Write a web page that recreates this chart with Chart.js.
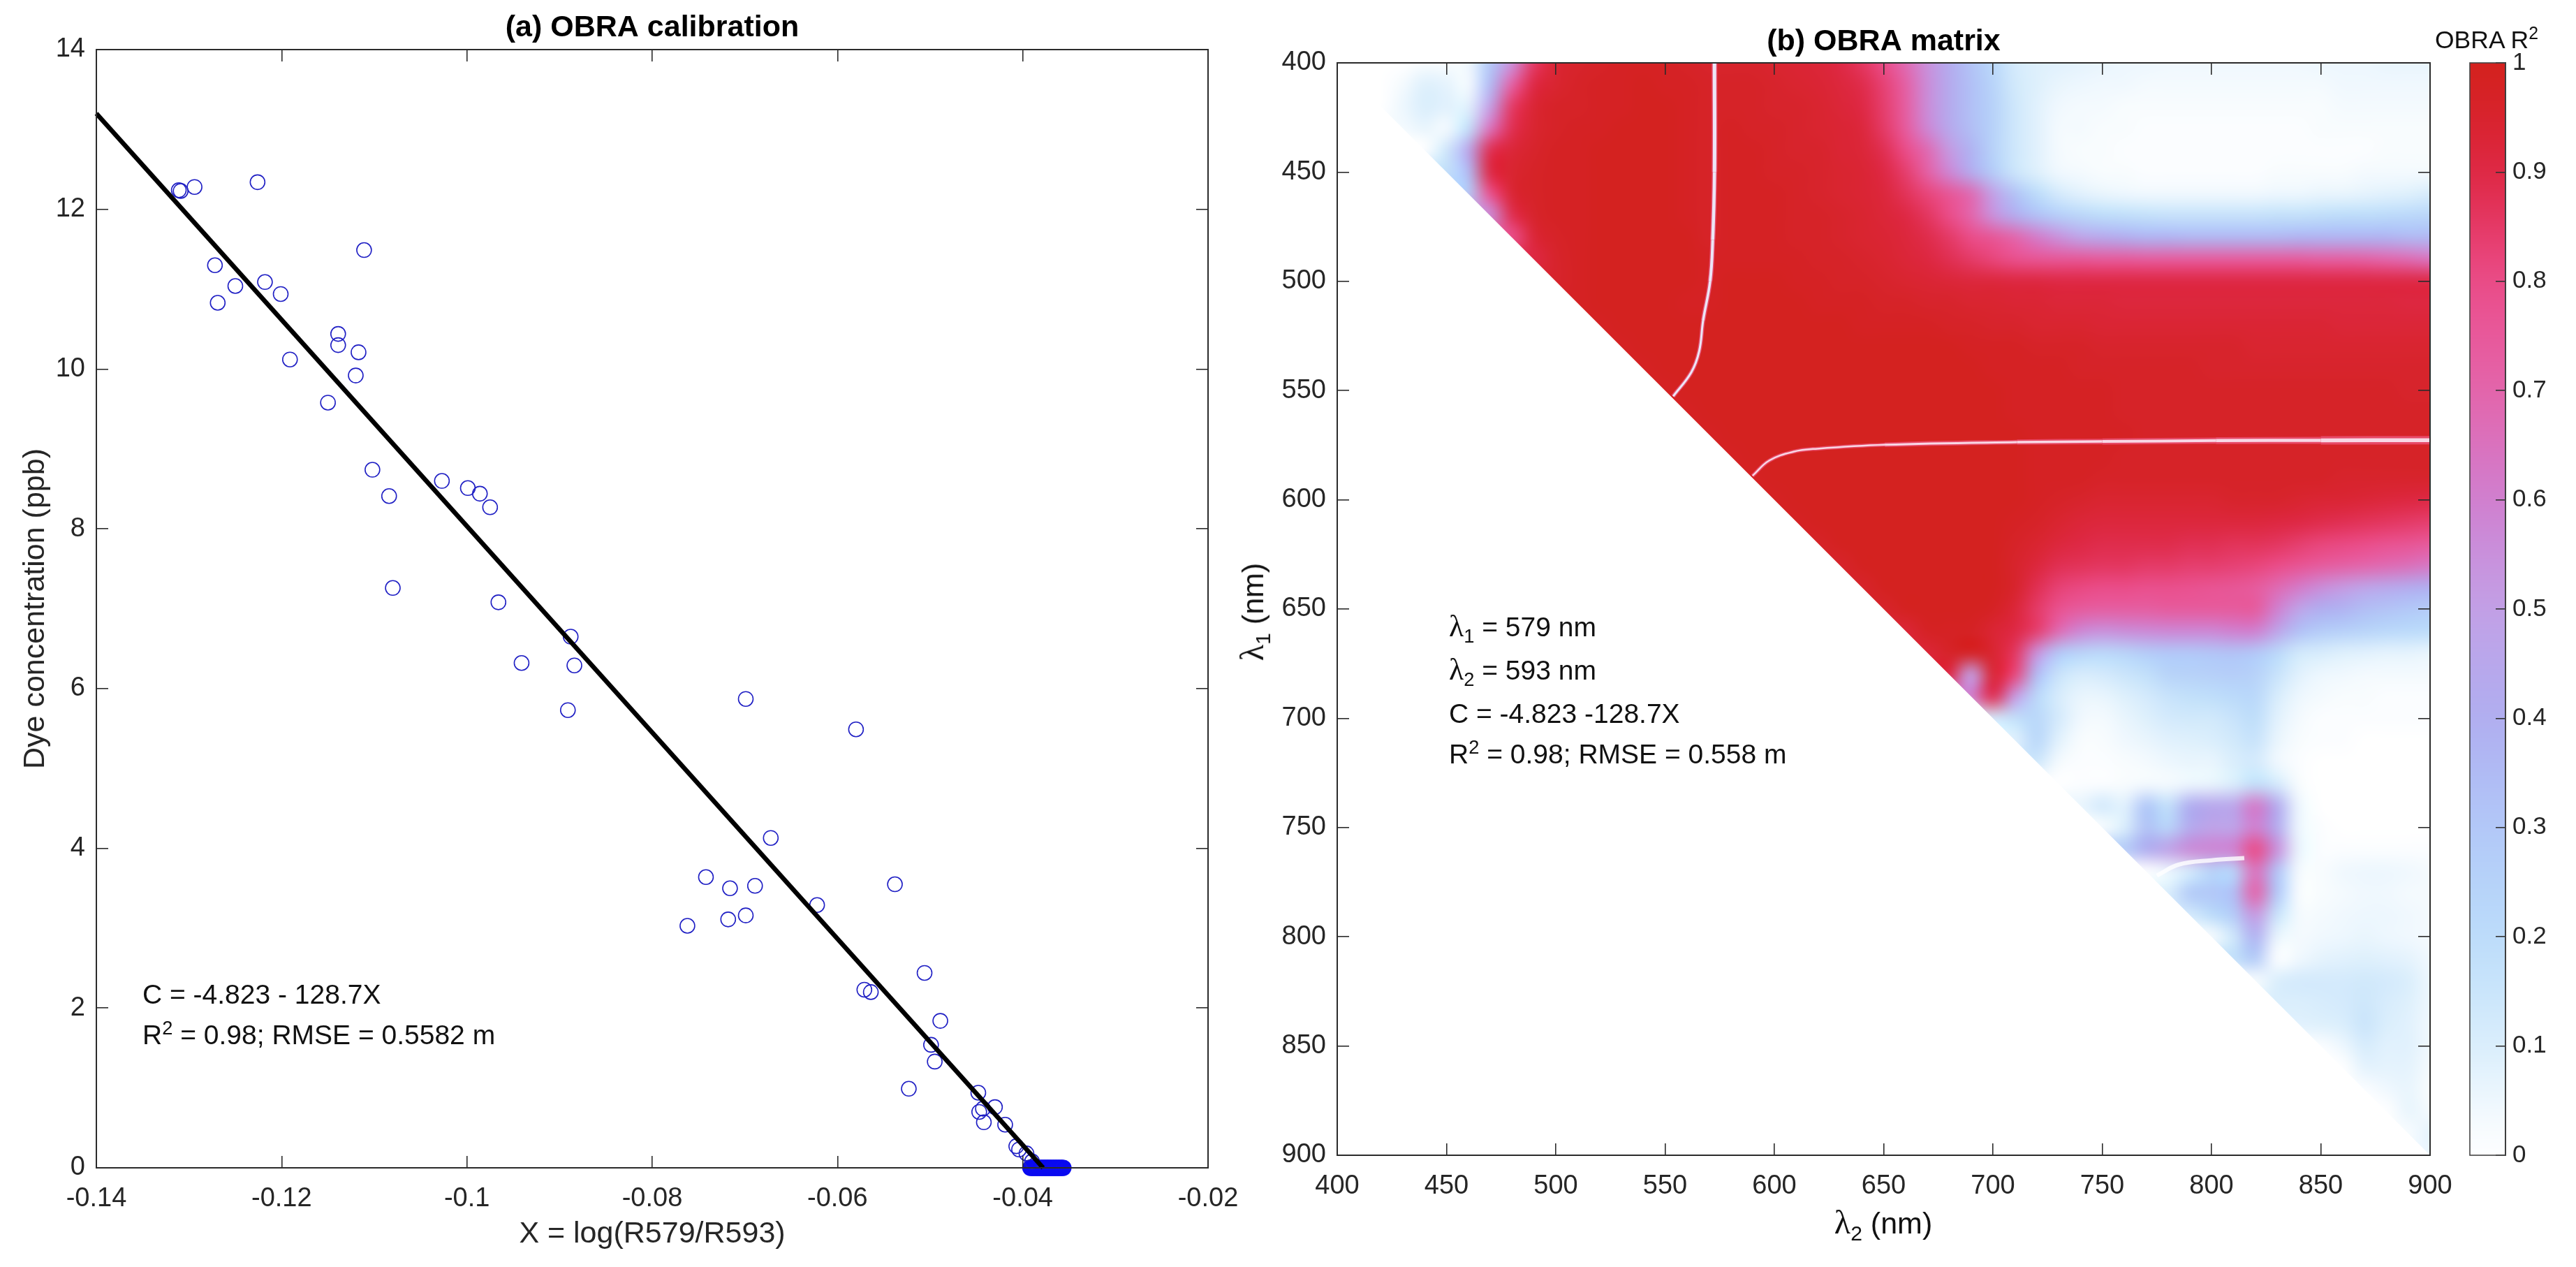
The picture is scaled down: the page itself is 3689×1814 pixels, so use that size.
<!DOCTYPE html>
<html>
<head>
<meta charset="utf-8">
<title>OBRA calibration and matrix</title>
<script src="https://cdn.jsdelivr.net/npm/chart.js@4/dist/chart.umd.js"></script>
<style>
html, body { margin: 0; padding: 0; background: #fff; }
#page { position: relative; width: 3689px; height: 1814px; overflow: hidden; font-family: "Liberation Sans", Arial, sans-serif; color: #111; }
canvas { position: absolute; top: 0; }
.txt { position: absolute; white-space: nowrap; line-height: 1; }
.txt sub, .txt sup { font-size: 70%; line-height: 0; }
.lam { font-family: "Liberation Serif", serif; font-size: 112%; }
</style>
</head>
<body>
<div id="page">
    <canvas id="chart-calibration" width="1868" height="1814" style="left:0"></canvas>
    <canvas id="chart-matrix" width="1814" height="1814" style="left:1790px"></canvas>
    <canvas id="chart-colorbar" width="189" height="1814" style="left:3500px"></canvas>
</div>
<script>
// panel (a)
const pointsX = [-0.1311, -0.1309, -0.1294, -0.1226, -0.1111, -0.1272, -0.1250, -0.1269, -0.1218, -0.1201, -0.1191, -0.1139, -0.1139, -0.1117, -0.1120, -0.1150, -0.1102, -0.1084, -0.1080, -0.1027, -0.0999, -0.0986, -0.0975, -0.0966, -0.0888, -0.0941, -0.0884, -0.0891, -0.0762, -0.0699, -0.0580, -0.0672, -0.0742, -0.0716, -0.0689, -0.0718, -0.0699, -0.0622, -0.0538, -0.0571, -0.0564, -0.0506, -0.0489, -0.0499, -0.0495, -0.0523, -0.0448, -0.0430, -0.0443, -0.0447, -0.0442, -0.0419, -0.0407, -0.0404, -0.0396, -0.0390];
const pointsY = [12.24, 12.23, 12.28, 12.34, 11.49, 11.30, 11.04, 10.83, 11.09, 10.94, 10.12, 10.44, 10.30, 10.21, 9.92, 9.58, 8.74, 8.41, 7.26, 8.60, 8.51, 8.44, 8.27, 7.08, 6.65, 6.32, 6.29, 5.73, 3.03, 5.87, 5.49, 4.13, 3.64, 3.50, 3.53, 3.11, 3.16, 3.29, 3.55, 2.23, 2.20, 2.44, 1.84, 1.54, 1.33, 0.99, 0.94, 0.76, 0.74, 0.70, 0.57, 0.54, 0.27, 0.23, 0.18, 0.08];
const zeroX = [-0.0392, -0.0391, -0.0390, -0.0389, -0.0388, -0.0387, -0.0386, -0.0385, -0.0384, -0.0383, -0.0382, -0.0381, -0.0380, -0.0379, -0.0378, -0.0377, -0.0376, -0.0375, -0.0374, -0.0373, -0.0372, -0.0371, -0.0370, -0.0369, -0.0368, -0.0367, -0.0366, -0.0365, -0.0364, -0.0363, -0.0362, -0.0361, -0.0360, -0.0359, -0.0358, -0.0357, -0.0356];
const fitX = [-0.14, -0.0378];
const fitY = [13.2, 0];

// panel (b), R2 in percent, each row starts on the diagonal (lambda2 = lambda1)
const lambda1Values = [400, 410, 420, 430, 440, 450, 460, 470, 480, 490, 500, 510, 520, 530, 540, 550, 560, 570, 580, 590, 600, 610, 620, 630, 640, 650, 660, 670, 680, 690, 700, 710, 720, 730, 740, 750, 760, 770, 780, 790, 800, 810, 820, 830, 840, 850, 860, 870, 880, 890, 900];
const r2Rows = [
    [0,0,0,0,2,2,4,30,55,85,94,96,97,98,98,98,97,96,96,96,95,94,93,90,86,80,68,55,42,32,22,12,9,8,7,6,5,5,4,4,4,4,4,4,4,5,5,5,6,6,6],
    [0,0,3,9,7,3,35,72,90,95,97,98,98,99,98,98,97,97,97,96,95,94,92,89,83,72,56,43,33,24,13,9,6,5,4,4,3,3,3,3,3,3,3,3,3,4,4,4,4,4],
    [0,5,10,8,8,50,85,94,97,97,98,98,99,99,98,97,97,97,96,96,95,93,90,84,73,56,43,33,25,14,8,4,3,3,2,2,2,2,2,2,2,2,2,2,3,3,3,3,3],
    [3,6,3,18,65,88,95,97,98,98,99,99,99,98,97,98,97,97,96,95,94,92,85,74,58,44,34,25,14,8,3,3,2,2,1,1,1,1,1,1,1,1,2,2,2,2,2,2],
    [0,14,45,88,93,96,98,98,99,99,99,99,98,97,98,98,97,96,96,94,93,88,80,68,52,38,25,14,8,3,2,2,1,1,1,1,1,1,1,1,1,1,1,1,2,2,2],
    [18,35,90,95,97,98,98,99,99,99,99,98,97,98,98,97,97,96,95,94,90,84,72,58,42,28,15,9,4,3,2,2,1,1,1,1,1,1,2,2,2,2,3,3,3,3],
    [28,78,94,97,98,98,99,99,99,99,98,97,98,98,98,97,96,95,94,92,87,82,76,68,50,32,20,12,8,6,5,4,4,4,4,4,4,5,5,6,6,7,8,9,11],
    [55,88,96,98,98,99,99,99,99,98,97,98,98,98,97,97,96,95,93,90,86,80,70,55,42,33,27,23,20,19,18,17,17,17,17,17,18,18,19,20,20,21,22,23],
    [78,93,97,98,99,99,99,99,99,97,98,98,98,97,97,96,95,94,92,89,85,80,76,70,62,55,48,44,41,38,38,37,37,37,37,37,38,38,38,38,38,36,36],
    [90,96,98,99,99,99,99,99,98,98,98,98,98,97,97,96,95,93,91,88,85,82,79,77,76,76,75,75,74,74,74,74,74,74,74,74,73,73,72,70,68,65],
    [96,98,99,99,99,99,99,98,99,99,99,98,98,97,97,96,95,94,93,92,92,91,91,90,90,90,90,90,90,90,90,90,90,90,90,90,90,90,90,90,90],
    [98,99,99,99,99,98,98,99,99,99,99,98,98,98,97,97,96,96,95,95,94,94,93,93,93,92,92,92,92,92,92,92,92,92,92,92,92,92,91,91],
    [98,99,99,99,99,99,99,99,99,99,99,99,98,98,98,98,97,97,96,96,95,95,95,94,94,94,94,94,94,94,94,94,94,94,93,93,93,93,93],
    [98,99,99,99,99,99,99,99,99,99,99,99,99,99,99,99,98,98,98,97,97,97,96,96,96,96,96,96,96,95,95,95,95,95,95,95,95,95],
    [98,99,99,99,99,99,99,99,99,99,99,99,99,99,99,99,98,98,98,98,97,97,97,97,97,97,96,96,96,96,96,96,96,96,96,96,96],
    [98,99,99,99,99,99,99,99,99,99,99,99,99,99,99,99,98,98,98,98,98,97,97,97,97,97,97,97,97,97,97,97,97,97,96,96],
    [98,99,99,99,99,99,99,99,99,99,99,99,99,99,99,98,98,98,98,98,97,97,97,97,97,97,97,97,97,97,97,97,97,97,97],
    [98,99,99,99,99,99,99,99,99,99,99,99,99,99,99,98,98,98,98,98,97,97,97,97,97,97,97,97,97,97,97,97,97,97],
    [98,99,99,99,99,99,99,99,99,99,99,99,99,99,98,98,98,98,97,97,97,97,97,97,97,97,97,97,97,97,97,97,97],
    [98,99,99,99,99,99,99,99,99,99,99,99,99,98,98,98,97,97,97,97,97,97,97,97,97,97,97,96,96,96,96,96],
    [98,99,99,99,99,99,99,99,99,99,99,99,98,97,96,95,95,95,95,95,95,96,96,96,95,94,94,93,92,91,90],
    [98,99,99,99,99,99,99,99,99,99,98,97,95,93,92,92,92,92,92,92,92,92,91,90,89,88,87,86,85,84],
    [97,99,99,99,99,99,99,99,99,97,95,92,90,89,89,89,89,88,88,87,87,86,84,82,81,80,78,77,75],
    [96,99,99,99,99,99,99,99,96,92,88,87,86,86,85,85,84,84,83,82,80,77,74,72,70,68,66,63],
    [96,99,99,99,99,99,99,96,88,83,81,80,80,79,79,78,77,76,74,68,62,56,52,48,45,42,40],
    [96,99,99,99,99,98,93,85,78,74,73,73,73,74,74,74,74,74,60,48,40,38,34,32,30,28],
    [93,98,98,98,94,90,84,68,58,55,56,57,58,58,58,60,60,48,33,28,26,24,22,21,20],
    [93,97,98,95,86,55,30,24,22,24,28,30,30,31,32,30,22,13,11,9,8,7,7,6],
    [90,50,94,82,35,16,11,12,15,18,24,25,26,27,25,16,8,5,4,3,3,3,3],
    [60,88,52,22,11,6,6,9,12,16,18,19,21,22,11,5,3,2,2,1,1,1],
    [12,18,22,12,4,3,6,9,12,13,13,16,19,8,3,1,1,1,1,1,1],
    [8,22,8,2,2,4,6,8,9,10,13,16,6,2,1,1,0,0,0,0],
    [14,3,1,1,2,3,5,6,6,10,12,4,1,0,0,0,0,0,0],
    [0,1,1,2,3,3,5,6,10,18,12,2,0,0,0,0,0,0],
    [6,12,8,30,18,40,44,46,62,42,5,0,0,0,0,0,0],
    [2,10,32,24,42,48,48,60,42,5,1,0,0,0,0,0],
    [28,40,48,56,58,60,80,55,6,1,1,1,1,1,1],
    [0,5,12,24,24,65,32,3,2,4,5,5,4,3],
    [10,28,30,34,70,30,2,2,3,4,4,3,3],
    [12,20,28,52,16,3,3,4,5,5,4,3],
    [2,14,38,6,3,4,5,6,5,4,3],
    [18,28,1,4,7,8,9,8,7,4],
    [2,10,12,12,12,13,12,10,5],
    [10,10,11,12,14,11,9,5],
    [8,9,10,15,10,8,4],
    [1,5,11,8,8,4],
    [0,7,7,7,3],
    [1,4,6,2],
    [0,6,3],
    [2,7],
    [5]
];
// the thin low-R2 ridges are much narrower than the grid
const ridgeVertX = [572.6, 572.6, 571.8, 570.6, 567.4, 565.6, 562, 553.7];
const ridgeVertY = [400, 450, 481, 500, 518, 532, 541.6, 552.6];
const ridgeHorizX = [590, 597.7, 608.7, 619.7, 650.5, 711, 750, 802, 850, 900];
const ridgeHorizY = [589, 582, 578, 576.6, 574.8, 573.6, 573.3, 572.9, 572.8, 572.7];
const notchX = [775, 785, 800, 815];
const notchY = [772, 767, 765, 764];

// colour bar
const colorLevels = [0, 0.1, 0.2, 0.3, 0.4, 0.5, 0.6, 0.7, 0.8, 0.9, 1];
const colorStops = [[255,255,255], [218,238,252], [188,220,250], [178,200,248], [176,174,240], [194,160,230], [208,127,207], [227,101,171], [234,76,136], [222,40,68], [211,33,28]];

const vertWidths = [5, 4.5, 4, 3.5, 3, 3, 3];
const horizWidths = [2.5, 2.5, 2.5, 2.5, 3, 3.5, 4, 4.5, 5.5];

function colorFor(value)
{
    const pos = Math.min(Math.max(value, 0), 1) * 10;
    const i = Math.min(Math.floor(pos), 9);
    const f = pos - i;
    return colorStops[i].map((c, k) => Math.round(c + (colorStops[i + 1][k] - c) * f));
}

function zipPoints(xs, ys)
{
    return xs.map((x, i) => ({x: x, y: ys[i]}));
}

// cells are painted into a tiny image, the browser smooths it when it is scaled up
function paintCells(chart, cells, colCount, rowCount, colOf, rowOf, edges)
{
    const off = document.createElement('canvas');
    off.width = colCount;
    off.height = rowCount;
    const offCtx = off.getContext('2d');
    const img = offCtx.createImageData(colCount, rowCount);

    const setPixel = (col, row, rgb) => {
        const p = (row * colCount + col) * 4;
        img.data[p] = rgb[0];
        img.data[p + 1] = rgb[1];
        img.data[p + 2] = rgb[2];
        img.data[p + 3] = 255;
    };

    cells.forEach((cell) => {
        const col = colOf(cell);
        const row = rowOf(cell);
        const rgb = colorFor(cell.v);
        setPixel(col, row, rgb);
        // below the diagonal is clipped away, repeat the value so the edge stays sharp
        if (edges.diagonal && col === row) {
            for (let c = 0; c < col; c++) {
                setPixel(c, row, rgb);
            }
        }
    });
    offCtx.putImageData(img, 0, 0);

    const ctx = chart.ctx;
    const xs = chart.scales.x;
    const ys = chart.scales.y;
    ctx.save();
    ctx.beginPath();
    if (edges.diagonal) {
        ctx.moveTo(xs.getPixelForValue(400), ys.getPixelForValue(400));
        ctx.lineTo(xs.getPixelForValue(900), ys.getPixelForValue(400));
        ctx.lineTo(xs.getPixelForValue(900), ys.getPixelForValue(900));
        ctx.closePath();
    } else {
        ctx.rect(chart.chartArea.left, chart.chartArea.top, chart.chartArea.width, chart.chartArea.height);
    }
    ctx.clip();
    ctx.imageSmoothingEnabled = true;
    ctx.imageSmoothingQuality = 'high';
    const x0 = xs.getPixelForValue(edges.x0);
    const x1 = xs.getPixelForValue(edges.x1);
    const y0 = ys.getPixelForValue(edges.y0);
    const y1 = ys.getPixelForValue(edges.y1);
    ctx.drawImage(off, x0, y0, x1 - x0, y1 - y0);
    ctx.restore();
}

const AXIS_COLOR = '#2b2b2b';
const TICK_FONT = {family: '"Liberation Sans", Arial, sans-serif', size: 38};

function boxScale(opts)
{
    // ticks point inwards, hence the negative tickLength
    return Object.assign({
        type: 'linear',
        border: {display: true, color: AXIS_COLOR, width: 2, z: 1},
        grid: {drawOnChartArea: false, drawTicks: true, tickLength: -17, color: AXIS_COLOR, lineWidth: 1.6, z: 1},
    }, opts);
}

// axis sizes are fixed so the plot area lands where the figure has it
function fixHeight(height)
{
    return (scale) => {
        scale.height = height;
        scale.paddingLeft = 0;
        scale.paddingRight = 0;
    };
}

function fixWidth(width)
{
    return (scale) => {
        scale.width = width;
        scale.paddingTop = 0;
        scale.paddingBottom = 0;
    };
}

function mirrorScale(position, min, max, step, reverse)
{
    return boxScale({
        position: position,
        min: min,
        max: max,
        reverse: !!reverse,
        ticks: {display: false, stepSize: step},
        afterFit: position === 'top' ? fixHeight(0) : fixWidth(0)
    });
}

const numberLabel = (value) => String(+value.toFixed(2));

Chart.defaults.animation = false;
Chart.defaults.font.family = TICK_FONT.family;
Chart.defaults.color = '#262626';

new Chart('chart-calibration', {
    type: 'scatter',
    data: {
        datasets: [{
            data: zipPoints(fitX, fitY),
            showLine: true,
            borderColor: '#000',
            borderWidth: 6.5,
            pointRadius: 0,
            clip: false
        }, {
            data: zipPoints(pointsX, pointsY),
            pointRadius: 10.5,
            pointBorderWidth: 1.6,
            pointBorderColor: '#1f1fc4',
            pointBackgroundColor: 'rgba(0,0,0,0)',
            clip: false
        }, {
            data: zeroX.map((x) => ({x: x, y: 0})),
            pointRadius: 10.5,
            pointBorderWidth: 2,
            pointBorderColor: '#0a0af0',
            pointBackgroundColor: 'rgba(0,0,0,0)',
            clip: false
        }]
    },
    options: {
        responsive: false,
        events: [],
        layout: {padding: {left: 0, right: 138, top: 0, bottom: 0}},
        plugins: {
            legend: {display: false},
            tooltip: {enabled: false},
            title: {
                display: true,
                fullSize: false,
                text: '(a) OBRA calibration',
                color: '#000',
                font: {size: 43, weight: 'bold'},
                padding: {top: 14, bottom: 5.4}
            }
        },
        scales: {
            x: boxScale({
                position: 'bottom',
                min: -0.14,
                max: -0.02,
                ticks: {stepSize: 0.02, font: TICK_FONT, padding: 39, maxRotation: 0, callback: numberLabel},
                title: {display: true, text: 'X = log(R579/R593)', font: {size: 43}, color: '#262626', padding: {top: 0, bottom: 21}},
                afterFit: fixHeight(142)
            }),
            y: boxScale({
                position: 'left',
                min: 0,
                max: 14,
                ticks: {stepSize: 2, font: TICK_FONT, padding: 33, callback: numberLabel},
                title: {display: true, text: 'Dye concentration (ppb)', font: {size: 43}, color: '#262626', padding: {top: 25, bottom: 0}},
                afterFit: fixWidth(138)
            }),
            xTop: mirrorScale('top', -0.14, -0.02, 0.02),
            yRight: mirrorScale('right', 0, 14, 2)
        }
    }
});

const matrixCells = [];
r2Rows.forEach((row, r) => {
    row.forEach((value, k) => {
        if (r + k < lambda1Values.length) {
            matrixCells.push({x: lambda1Values[r + k], y: lambda1Values[r], v: value / 100});
        }
    });
});

new Chart('chart-matrix', {
    type: 'scatter',
    plugins: [{
        id: 'matrixCells',
        beforeDatasetsDraw(chart) {
            paintCells(chart, matrixCells, 51, 51,
                (c) => (c.x - 400) / 10,
                (c) => (c.y - 400) / 10,
                {diagonal: true, x0: 395, x1: 905, y0: 395, y1: 905});
        }
    }],
    data: {
        datasets: [{
            data: zipPoints(ridgeVertX, ridgeVertY),
            showLine: true,
            tension: 0.4,
            pointRadius: 0,
            borderColor: '#ece6f6',
            segment: {borderWidth: (ctx) => vertWidths[ctx.p0DataIndex]}
        }, {
            data: zipPoints(ridgeVertX, ridgeVertY),
            showLine: true,
            tension: 0.4,
            pointRadius: 0,
            borderColor: 'rgba(238,110,160,0.6)',
            segment: {borderWidth: (ctx) => vertWidths[ctx.p0DataIndex] + 3}
        }, {
            data: zipPoints(ridgeHorizX, ridgeHorizY),
            showLine: true,
            tension: 0.4,
            pointRadius: 0,
            borderColor: '#f8d8e6',
            segment: {borderWidth: (ctx) => horizWidths[ctx.p0DataIndex]}
        }, {
            data: zipPoints(ridgeHorizX, ridgeHorizY),
            showLine: true,
            tension: 0.4,
            pointRadius: 0,
            borderColor: 'rgba(238,90,130,0.7)',
            segment: {borderWidth: (ctx) => horizWidths[ctx.p0DataIndex] * 2.2}
        }, {
            data: zipPoints(notchX, notchY),
            showLine: true,
            tension: 0.4,
            pointRadius: 0,
            borderColor: 'rgba(255,255,255,0.8)',
            borderWidth: 6
        }, {
            data: matrixCells,
            showLine: false,
            pointRadius: 0
        }]
    },
    options: {
        responsive: false,
        events: [],
        layout: {padding: {left: 0, right: 124, top: 0, bottom: 0}},
        plugins: {
            legend: {display: false},
            tooltip: {enabled: false},
            title: {
                display: true,
                fullSize: false,
                text: '(b) OBRA matrix',
                color: '#000',
                font: {size: 43, weight: 'bold'},
                padding: {top: 34, bottom: 4.4}
            }
        },
        scales: {
            x: boxScale({
                position: 'bottom',
                min: 400,
                max: 900,
                ticks: {stepSize: 50, font: TICK_FONT, padding: 39, maxRotation: 0},
                afterFit: fixHeight(160)
            }),
            y: boxScale({
                position: 'left',
                min: 400,
                max: 900,
                reverse: true,
                ticks: {stepSize: 50, font: TICK_FONT, padding: 33},
                afterFit: fixWidth(125)
            }),
            xTop: mirrorScale('top', 400, 900, 50),
            yRight: mirrorScale('right', 400, 900, 50, true)
        }
    }
});

const colorCells = colorLevels.map((level) => ({x: 0, y: level, v: level}));

new Chart('chart-colorbar', {
    type: 'scatter',
    plugins: [{
        id: 'colorCells',
        beforeDatasetsDraw(chart) {
            paintCells(chart, colorCells, 1, 11,
                () => 0,
                (c) => 10 - Math.round(c.y * 10),
                {diagonal: false, x0: 0, x1: 1, y0: 1.05, y1: -0.05});
        },
        afterDraw(chart) {
            const area = chart.chartArea;
            chart.ctx.save();
            chart.ctx.strokeStyle = '#444';
            chart.ctx.lineWidth = 1.6;
            chart.ctx.strokeRect(area.left, area.top, area.width, area.height);
            chart.ctx.restore();
        }
    }],
    data: {
        datasets: [{data: colorCells, showLine: false, pointRadius: 0}]
    },
    options: {
        responsive: false,
        events: [],
        layout: {padding: {left: 37, right: 0, top: 90, bottom: 160}},
        plugins: {legend: {display: false}, tooltip: {enabled: false}, title: {display: false}},
        scales: {
            x: {type: 'linear', display: false, min: 0, max: 1},
            y: boxScale({
                position: 'right',
                min: 0,
                max: 1,
                grid: {drawOnChartArea: false, drawTicks: true, tickLength: -14, color: '#333', lineWidth: 1.6, z: 1},
                ticks: {stepSize: 0.1, font: {size: 35}, padding: 24, callback: numberLabel},
                afterFit: fixWidth(101)
            })
        }
    }
});

// labels with sub and superscripts cannot go through the axis titles
function placeText(html, left, baseline, size, extra)
{
    const el = document.createElement('div');
    el.className = 'txt';
    el.innerHTML = html;
    el.style.left = left + 'px';
    el.style.top = (baseline - 0.8465 * size) + 'px';
    el.style.fontSize = size + 'px';
    if (extra) {
        el.style.transform = extra;
    }
    document.getElementById('page').appendChild(el);
}

const LAMBDA = '<span class="lam">\u03bb</span>';
placeText('C = -4.823 - 128.7X', 204, 1437, 39);
placeText('R<sup>2</sup> = 0.98; RMSE = 0.5582 m', 204, 1495, 39);
placeText(LAMBDA + '<sub>1</sub> = 579 nm', 2075, 908, 39);
placeText(LAMBDA + '<sub>2</sub> = 593 nm', 2075, 970, 39);
placeText('C = -4.823 -128.7X', 2075, 1035, 39);
placeText('R<sup>2</sup> = 0.98; RMSE = 0.558 m', 2075, 1093, 39);
placeText(LAMBDA + '<sub>2</sub> (nm)', 2697, 1762, 43, 'translateX(-50%)');
placeText(LAMBDA + '<sub>1</sub> (nm)', 1793, 912, 43, 'translate(-50%,-50%) rotate(-90deg)');
placeText('OBRA R<sup>2</sup>', 3487, 70, 35.5);
</script>
</body>
</html>
